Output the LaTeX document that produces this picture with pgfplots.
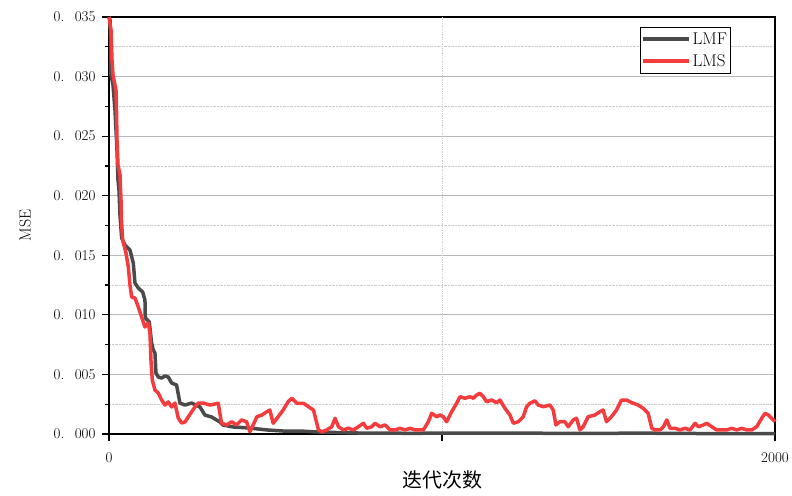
\documentclass[border=0pt]{standalone}
\usepackage{fontspec}
\usepackage{pgfplots}
\pgfplotsset{compat=1.18}
\newfontfamily\cjk{Noto Sans CJK SC}
\definecolor{lmf}{RGB}{74,74,74}
\definecolor{lms}{RGB}{244,60,62}
\newcommand\tl[1]{0.\hspace{0.7em}#1}

\pgfplotstableread{
x y
0 0.03500
3 0.03475
6 0.03223
6 0.03013
12 0.02929
18 0.02719
24 0.02384
27 0.02132
30 0.02048
33 0.01838
38 0.01645
48 0.01586
63 0.01544
73 0.01435
78 0.01267
88 0.01225
101 0.01192
108 0.01125
109 0.00974
121 0.00940
128 0.00764
133 0.00705
138 0.00680
141 0.00512
148 0.00478
158 0.00470
168 0.00487
178 0.00478
188 0.00428
203 0.00411
213 0.00260
228 0.00243
248 0.00260
273 0.00227
288 0.00159
308 0.00143
333 0.00101
342 0.00076
372 0.00059
423 0.00050
474 0.00034
523 0.00025
574 0.00025
625 0.00017
673 0.00013
754 0.00008
900 0.00006
1174 0.00008
1400 0.00005
1600 0.00007
1775 0.00004
2000 0.00004
}\lmfdata

\pgfplotstableread{
x y
0 0.03500
6 0.03391
9 0.03139
12 0.03013
21 0.02887
22.5 0.02719
24 0.02468
27 0.02258
33 0.02174
36 0.01964
37.5 0.01796
41 0.01628
51 0.01519
58 0.01402
63 0.01251
68 0.01150
78 0.01141
88 0.01066
98 0.00982
108 0.00898
118 0.00932
123 0.00848
126 0.00621
130 0.00453
138 0.00369
148 0.00344
158 0.00285
168 0.00243
178 0.00269
188 0.00227
198 0.00260
208 0.00134
218 0.00092
228 0.00101
238 0.00143
248 0.00185
258 0.00227
268 0.00260
283 0.00260
303 0.00243
328 0.00258
338 0.00090
353 0.00076
368 0.00103
383 0.00076
398 0.00118
413 0.00103
423 0.00019
433 0.00076
444 0.00145
459 0.00159
474 0.00187
483 0.00201
493 0.00090
508 0.00145
523 0.00201
538 0.00271
549 0.00300
564 0.00258
584 0.00258
599 0.00229
614 0.00201
629 0.00034
639 0.00019
654 0.00034
669 0.00061
679 0.00132
689 0.00061
704 0.00034
719 0.00048
734 0.00034
749 0.00061
764 0.00090
774 0.00048
789 0.00061
799 0.00090
814 0.00061
829 0.00076
844 0.00034
859 0.00034
874 0.00048
889 0.00034
904 0.00048
919 0.00034
934 0.00034
944 0.00034
959 0.00103
969 0.00174
984 0.00145
994 0.00159
1004 0.00145
1014 0.00103
1029 0.00187
1044 0.00258
1054 0.00313
1069 0.00300
1084 0.00313
1094 0.00300
1104 0.00327
1114 0.00342
1124 0.00313
1134 0.00271
1149 0.00285
1164 0.00263
1174 0.00285
1189 0.00216
1204 0.00159
1214 0.00090
1229 0.00103
1244 0.00145
1254 0.00229
1264 0.00258
1279 0.00279
1289 0.00243
1304 0.00229
1324 0.00243
1334 0.00201
1342 0.00076
1354 0.00103
1369 0.00103
1379 0.00061
1394 0.00118
1404 0.00132
1414 0.00034
1424 0.00061
1439 0.00145
1459 0.00159
1474 0.00187
1484 0.00201
1494 0.00103
1509 0.00145
1524 0.00201
1539 0.00285
1554 0.00285
1574 0.00258
1589 0.00243
1604 0.00216
1619 0.00174
1630 0.00048
1640 0.00034
1655 0.00034
1665 0.00061
1675 0.00118
1685 0.00048
1700 0.00048
1715 0.00034
1730 0.00048
1745 0.00034
1760 0.00090
1770 0.00061
1785 0.00076
1795 0.00090
1810 0.00061
1825 0.00034
1840 0.00034
1855 0.00034
1870 0.00048
1885 0.00034
1900 0.00048
1915 0.00034
1930 0.00034
1945 0.00061
1960 0.00132
1970 0.00174
1980 0.00159
1990 0.00132
2000 0.00103
}\lmsdata

\begin{document}
\begin{tikzpicture}
\pgfplotsset{
  commonaxis/.style={
    scale only axis, width=666pt, height=417pt,
    xmin=0, xmax=2000, ymin=0, ymax=0.035,
    axis line style={line width=1.2pt, black},
    tick style={line width=1.2pt, black},
    major tick length=7pt, minor tick length=4pt,
    ytick={0,0.005,0.01,0.015,0.02,0.025,0.03,0.035},
    minor ytick={0.0025,0.0075,0.0125,0.0175,0.0225,0.0275,0.0325},
    scaled y ticks=false,
  }
}
\begin{axis}[
  commonaxis,
  clip=false,
  xtick={0,2000}, xticklabels={0,2000},
  extra x ticks={1000}, extra x tick labels={},
  extra x tick style={xmajorgrids=true, major grid style={densely dotted, black!20, line width=0.6pt}},
  yticklabels={\tl{000},\tl{005},\tl{010},\tl{015},\tl{020},\tl{025},\tl{030},\tl{035}},
  xtick pos=bottom, ytick pos=left, tick align=outside,
  ymajorgrids, yminorgrids,
  major grid style={black!28, line width=0.8pt},
  minor grid style={densely dotted, black!20, line width=0.6pt},
  ticklabel style={font=\fontsize{15}{15}\selectfont},
  xticklabel style={yshift=-8pt},
  yticklabel style={xshift=-3pt},
  xlabel={\cjk 迭代次数},
  xlabel style={font=\fontsize{20}{20}\selectfont, at={(axis description cs:0.5,-0.11)}, anchor=center},
  ylabel={MSE},
  ylabel style={font=\fontsize{16}{16}\selectfont, at={(axis description cs:-0.126,0.5)}, anchor=center},
  legend style={at={(rel axis cs:0.797,0.976)}, anchor=north west,
    draw=black, line width=0.8pt, font=\fontsize{17}{17}\selectfont,
    inner xsep=1pt, inner ysep=3pt, row sep=5pt},
  legend cell align=left,
  legend image code/.code={\draw[#1, line width=3.5pt] (0pt,0pt) -- (46pt,0pt);},
]
\addplot[lmf, line width=3.5pt, line join=round] table[x=x,y=y] {\lmfdata};
\addlegendentry{LMF}
\addplot[lms, line width=3.5pt, line join=round] table[x=x,y=y] {\lmsdata};
\addlegendentry{LMS}
\end{axis}
\begin{axis}[
  commonaxis,
  axis lines=none,
  xtick=\empty, yticklabels={},
  ytick pos=right, tick align=inside,
  axis line style={draw=none},
]
\addplot[draw=none] coordinates {(0,0)};
\end{axis}
\pgfresetboundingbox
\path[use as bounding box] ([shift={(-109pt,-61pt)}]current axis.south west) rectangle ([shift={(17pt,17pt)}]current axis.north east);
\end{tikzpicture}
\end{document}
